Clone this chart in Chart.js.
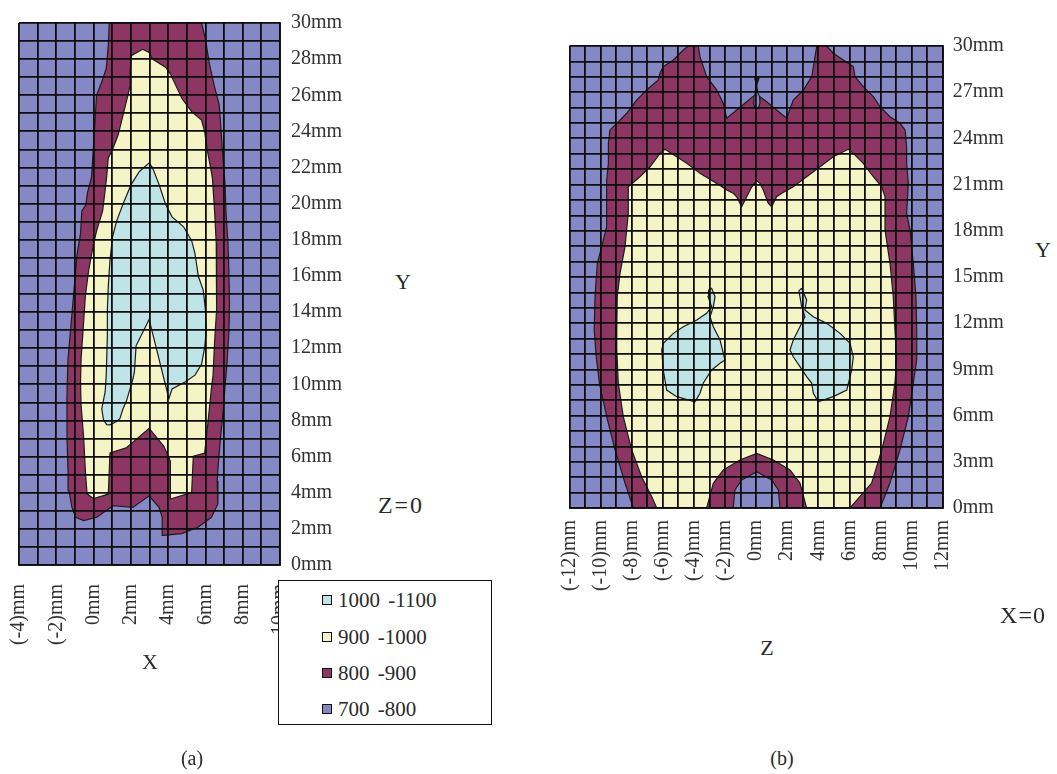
<!DOCTYPE html>
<html>
<head>
<meta charset="utf-8">
<script src="https://cdn.jsdelivr.net/npm/chart.js@4.4.1/dist/chart.umd.min.js"></script>
<style>
  body { margin: 0; background: #fff; width: 1057px; height: 774px; position: relative; overflow: hidden;
         font-family: "Liberation Serif", "Times New Roman", serif; color: #2a2a2a; }
  canvas { position: absolute; }
  #chartA { left: 0; top: 0; }
  #chartB { left: 520px; top: 0; }
  .lbl { position: absolute; transform: translate(-50%, -50%); white-space: nowrap; font-size: 22px; }
  #legend { position: absolute; left: 278px; top: 580px; width: 212px; height: 143px;
            border: 1.5px solid #111; background: #fff; }
  #legend .item { position: absolute; left: 43px; height: 24px; display: flex; align-items: center;
                  font-size: 21px; word-spacing: 3px; transform: translateY(-50%); }
  #legend .sw { width: 8px; height: 8px; border: 1.5px solid #111; margin-right: 6px; }
</style>
</head>
<body>
<canvas id="chartA" width="350" height="660"></canvas>
<canvas id="chartB" width="500" height="620"></canvas>

<div class="lbl" style="left:403px;top:282px">Y</div>
<div class="lbl" style="left:401px;top:505px;font-size:24px;letter-spacing:2px">Z=0</div>
<div class="lbl" style="left:150px;top:662px">X</div>
<div class="lbl" style="left:192px;top:758px;font-size:20px">(a)</div>
<div class="lbl" style="left:1043px;top:250px">Y</div>
<div class="lbl" style="left:1023px;top:615px;font-size:24px;letter-spacing:1px">X=0</div>
<div class="lbl" style="left:767px;top:648px">Z</div>
<div class="lbl" style="left:782px;top:758px;font-size:20px">(b)</div>
<div id="legend"></div>

<script>
// temperature bands (legend order) and their colours
const bandLabels = ['1000 -1100', '900 -1000', '800 -900', '700 -800'];
const bandColors = ['#BEE4E8', '#F4F4C4', '#8D3664', '#8489C6'];

// ---- (a) section Z=0 : X from -4 to 10 mm, Y from 0 to 30 mm
const aXTicks = [-4, -2, 0, 2, 4, 6, 8, 10];
const aYTicks = [0, 2, 4, 6, 8, 10, 12, 14, 16, 18, 20, 22, 24, 26, 28, 30];
const aBase = [[-4, 0], [10, 0], [10, 30], [-4, 30]];
const aMaroon = [[0.84,30],[5.79,30],[6.0,29.12],[6.21,27.75],[6.47,26.55],[6.74,25.45],[6.84,24.0],[6.95,22.4],
  [7.05,21.1],[7.11,19.4],[7.21,17.8],[7.26,16.2],[7.29,14.5],[7.26,12.9],[7.16,11.2],[7.05,9.85],[6.95,8.5],
  [6.79,6.84],[6.68,5.47],[6.63,4.65],[6.67,3.38],[6.32,2.64],[5.62,2.10],[4.74,1.74],[3.72,1.64],[3.68,2.64],
  [3.51,3.19],[2.98,3.83],[2.11,3.19],[1.05,3.28],[0.17,2.64],[-0.53,2.46],[-0.96,2.64],[-1.16,3.19],[-1.32,4.11],
  [-1.37,5.20],[-1.42,6.84],[-1.43,9.0],[-1.41,10.13],[-1.37,11.40],[-1.26,12.70],[-1.14,14.14],[-1.02,15.60],
  [-0.88,17.24],[-0.70,18.34],[-0.63,19.60],[-0.42,19.92],[-0.32,20.64],[-0.11,21.46],[0.0,23.26],[0.08,24.6],
  [0.16,26.0],[0.37,26.55],[0.68,27.48],[0.79,28.74]];
const aYellow = [[2.63,28.55],[2.98,28.37],[3.16,28.0],[3.86,27.55],[4.12,27.19],[4.74,25.82],[5.26,25.09],
  [5.79,24.63],[5.96,23.99],[6.11,22.90],[6.37,21.46],[6.49,19.61],[6.58,17.79],[6.62,15.98],[6.58,14.14],
  [6.49,12.32],[6.41,10.51],[6.32,9.76],[6.14,7.94],[5.96,6.20],[5.35,6.02],[5.26,4.01],[4.12,3.65],[4.12,5.75],
  [3.77,6.57],[2.98,7.57],[1.75,6.48],[0.88,6.20],[0.79,3.92],[0,3.67],[-0.35,3.94],[-0.44,5.20],[-0.53,7.02],
  [-0.67,8.87],[-0.70,10.13],[-0.67,11.40],[-0.56,13.04],[-0.44,14.89],[-0.26,16.33],[0,17.79],[0.17,18.52],
  [0.49,19.61],[0.70,21.46],[0.79,22.53],[1.05,23.08],[1.32,23.81],[1.58,24.90],[1.84,26.0],[1.96,26.55],
  [1.96,27.27],[2.02,28.19]];
const aCyan = [[2.98,22.26],[3.16,22.0],[3.51,21.07],[3.86,19.97],[4.21,19.27],[4.83,18.72],[5.26,17.95],
  [5.44,17.24],[5.62,15.98],[5.88,15.22],[6.0,14.12],[6.05,13.03],[5.96,12.04],[5.79,11.11],[5.44,10.51],
  [4.91,10.13],[4.21,9.74],[4.04,9.21],[2.98,13.59],[2.28,12.13],[2.19,10.67],[2.11,10.29],[1.75,9.03],
  [1.58,8.65],[1.41,8.10],[1.23,7.94],[0.88,7.76],[0.70,7.77],[0.53,8.05],[0.44,8.65],[0.62,9.58],[0.68,10.51],
  [0.74,12.70],[0.74,14.12],[0.79,15.43],[0.88,16.86],[1.02,18.17],[1.23,19.02],[1.58,19.98],[2.02,21.07],
  [2.46,21.78]];

// ---- (b) section X=0 : Z from -12 to 12 mm, Y from 0 to 30 mm
const bXTicks = [-12, -10, -8, -6, -4, -2, 0, 2, 4, 6, 8, 10, 12];
const bYTicks = [0, 3, 6, 9, 12, 15, 18, 21, 24, 27, 30];
const bBase = [[-12, 0], [12, 0], [12, 30], [-12, 30]];
const bMaroon = [[-4.36,30],[-3.72,30],[-3.61,29.31],[-3.18,28.01],[-2.53,27.14],[-2.11,26.28],[-1.89,25.31],
  [-1.25,25.84],[-0.60,26.38],[-0.22,26.71],[0.04,26.82],[0.25,26.71],[0.68,26.38],[1.32,25.84],[1.97,25.31],
  [2.39,26.49],[3.04,27.14],[3.58,28.01],[3.79,29.31],[3.90,30],[4.54,30],[4.96,29.53],[5.61,29.09],[6.25,28.66],
  [6.36,28.01],[6.89,27.36],[7.54,26.71],[7.97,26.06],[8.61,25.41],[9.25,24.98],[9.58,24.55],[9.68,23.46],
  [9.68,22.38],[9.79,21.08],[9.68,19.14],[9.90,18.05],[10.11,15.89],[10.28,13.72],[10.33,11.56],[10.33,9.61],
  [10.11,8.12],[9.79,5.93],[9.25,3.77],[8.61,1.62],[7.97,0],[-7.90,0],[-8.0,0.32],[-8.43,1.62],[-9.07,3.77],
  [-9.61,5.93],[-10.08,8.12],[-10.3,10.0],[-10.41,11.56],[-10.36,13.72],[-10.21,15.89],[-9.93,16.97],
  [-9.61,18.27],[-9.61,21.30],[-9.50,22.38],[-9.50,23.68],[-9.40,24.55],[-8.96,24.98],[-8.32,25.63],
  [-7.68,26.49],[-7.04,27.14],[-6.29,27.79],[-6.18,28.23],[-5.97,28.66],[-5.32,29.09],[-4.68,29.74]];
const bYellow = [[-6.39,0],[-6.71,0.73],[-7.36,2.03],[-8.0,3.77],[-8.54,5.93],[-8.86,8.10],[-8.96,10.26],
  [-8.96,11.56],[-8.93,13.72],[-8.75,15.24],[-8.43,16.97],[-8.22,19.14],[-8.22,20.86],[-7.47,21.51],
  [-6.82,22.16],[-6.18,23.03],[-5.86,23.29],[-5.11,22.81],[-4.46,22.38],[-3.61,21.73],[-2.53,21.08],
  [-1.89,20.65],[-1.47,20.44],[-1.25,20.21],[-0.93,19.56],[-0.60,20.21],[-0.28,20.86],[0.04,21.25],[0.25,21.08],
  [0.46,20.65],[0.78,19.79],[1.0,19.56],[1.32,20.21],[1.65,20.44],[2.39,20.86],[3.25,21.51],[4.11,22.16],
  [4.96,22.81],[5.93,23.29],[6.25,23.03],[6.89,22.38],[7.54,21.51],[8.08,20.86],[8.29,20.21],[8.29,18.05],
  [8.61,15.89],[8.82,13.72],[8.93,11.56],[9.04,9.61],[8.93,8.12],[8.61,5.93],[8.08,3.77],[7.43,1.62],[6.04,0]];
const bArch = [[-3.18,0],[-2.75,1.60],[-2.11,2.47],[-1.04,3.12],[0.04,3.55],[1.11,3.12],[2.18,2.47],[2.82,1.62],[3.25,0]];
const bArchInner = [[-1.47,0],[-1.36,1.17],[-0.93,1.82],[0.04,2.36],[1.0,1.82],[1.43,1.17],[1.54,0]];
const bCyanL = [[-3.06,14.16],[-2.86,14.27],[-2.64,13.72],[-2.75,13.07],[-2.96,12.42],[-2.75,11.77],[-2.32,10.91],
  [-2.11,10.05],[-2.0,9.61],[-2.32,9.40],[-2.86,8.96],[-3.40,8.10],[-3.61,7.45],[-3.93,6.90],[-5.11,7.23],
  [-5.75,7.66],[-5.97,8.96],[-6.07,10.26],[-5.97,10.69],[-5.32,11.34],[-4.68,11.77],[-3.82,12.21],[-3.18,12.64],
  [-2.86,13.07],[-3.09,13.72]];
const bCyanR = [[2.93,14.27],[3.25,13.51],[3.14,12.86],[3.68,12.42],[4.54,11.99],[5.40,11.34],[6.04,10.69],
  [6.25,9.82],[6.15,8.96],[5.83,7.66],[4.96,7.23],[4.0,6.90],[3.68,7.45],[3.58,8.10],[3.25,8.53],[2.82,9.18],
  [2.39,9.82],[2.18,10.26],[2.39,10.91],[2.82,11.77],[3.14,12.42],[2.93,13.07],[2.82,13.72],[2.75,14.1]];
const bLoop = [[0.04,27.45],[0.1,27.0],[0.22,26.7],[0.25,26.3],[0.14,25.95],[-0.06,25.95],[-0.17,26.3],[-0.14,26.7],[-0.02,27.0]];
const bTip = [[-0.10,27.92],[0.19,27.92],[0.04,27.45]];

const CYAN = bandColors[0], YELLOW = bandColors[1], MAROON = bandColors[2], PURPLE = bandColors[3];

// legend
const legend = document.getElementById('legend');
const legendTops = [19, 56, 92, 128];
bandLabels.forEach((t, i) => {
  const d = document.createElement('div');
  d.className = 'item';
  d.style.top = legendTops[i] + 'px';
  d.innerHTML = '<span class="sw" style="background:' + bandColors[i] + '"></span>' + t;
  legend.appendChild(d);
});

// one closed, filled contour region
function region(points, color, layer, edge) {
  const pts = points.map(p => ({ x: p[0], y: p[1] }));
  pts.push(pts[0]);
  return {
    data: pts, showLine: true, fill: 'shape', backgroundColor: color,
    borderColor: '#1c1c1c', borderWidth: edge === undefined ? 1.2 : edge,
    pointRadius: 0, tension: 0, order: 100 - layer
  };
}

function mmLabel(v) {
  return v < 0 ? '(' + v + ')mm' : v + 'mm';
}

function axes(xMin, xMax, xTicks, yTicks, xPad, yPad, yWidth, xHeight) {
  const tickFont = { family: 'Liberation Serif', size: 20 };
  // grid and border go on top of the filled regions
  const grid = { color: '#0d0d0d', lineWidth: 1.8, drawTicks: false, z: 1 };
  const border = { display: true, color: '#0d0d0d', width: 1.8, z: 1 };
  return {
    x: {
      type: 'linear', min: xMin, max: xMax, z: 1,
      grid: grid, border: border,
      ticks: {
        stepSize: 1, autoSkip: false, maxTicksLimit: 100, minRotation: 90, maxRotation: 90,
        padding: xPad, color: '#333', font: tickFont,
        callback: v => xTicks.includes(Math.round(v)) ? mmLabel(Math.round(v)) : ''
      },
      afterFit: s => { s.height = xHeight; }
    },
    y: {
      type: 'linear', position: 'right', min: 0, max: 30, z: 1,
      grid: grid, border: border,
      ticks: {
        stepSize: 1, autoSkip: false, maxTicksLimit: 100,
        padding: yPad, color: '#333', font: tickFont,
        callback: v => yTicks.includes(Math.round(v)) ? mmLabel(Math.round(v)) : ''
      },
      afterFit: s => { s.width = yWidth; }
    }
  };
}

const common = {
  responsive: false, animation: false, events: [],
  plugins: { legend: { display: false }, tooltip: { enabled: false } }
};

new Chart(document.getElementById('chartA'), {
  type: 'scatter',
  data: {
    datasets: [
      region(aBase, PURPLE, 0, 0),
      region(aMaroon, MAROON, 1),
      region(aYellow, YELLOW, 2),
      region(aCyan, CYAN, 3)
    ]
  },
  options: Object.assign({}, common, {
    layout: { padding: { left: 14, top: 17, right: 0, bottom: 0 } },
    scales: axes(-4, 10, aXTicks, aYTicks, 19, 11, 70, 95)
  })
});

new Chart(document.getElementById('chartB'), {
  type: 'scatter',
  data: {
    datasets: [
      region(bBase, PURPLE, 0, 0),
      region(bMaroon, MAROON, 1),
      region(bYellow, YELLOW, 2),
      region(bArch, MAROON, 3),
      region(bArchInner, PURPLE, 4),
      region(bCyanL, CYAN, 5),
      region(bCyanR, CYAN, 6),
      region(bLoop, PURPLE, 7),
      region(bTip, '#2a1020', 8)
    ]
  },
  options: Object.assign({}, common, {
    layout: { padding: { left: 49.5, top: 46, right: 0, bottom: 0 } },
    scales: axes(-12, 12, bXTicks, bYTicks, 12, 10, 77.3, 112)
  })
});
</script>
</body>
</html>
